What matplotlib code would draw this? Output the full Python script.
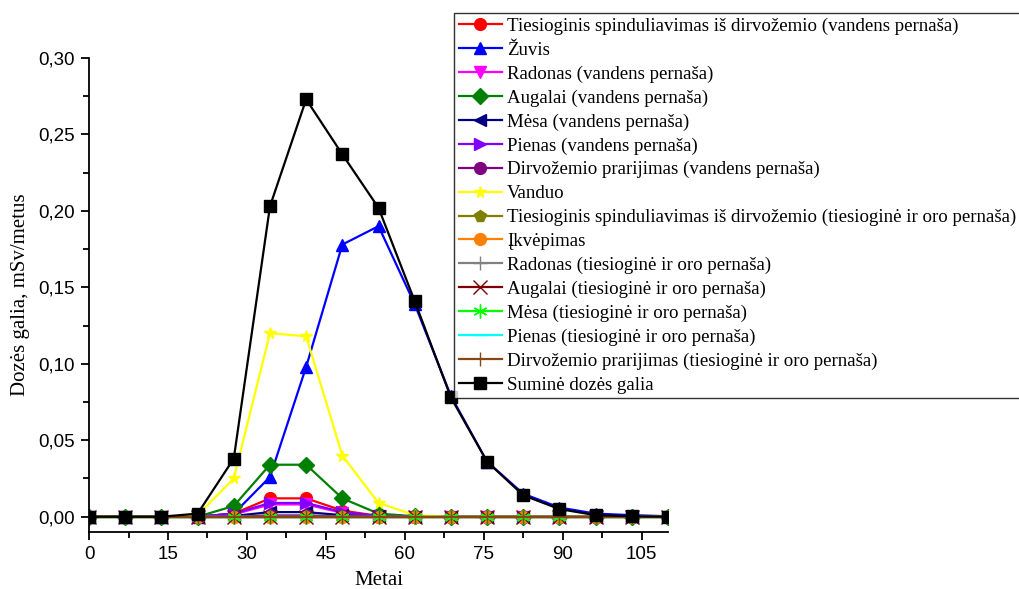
import matplotlib
matplotlib.use('Agg')
import matplotlib.pyplot as plt
from matplotlib.ticker import MultipleLocator, FuncFormatter

years = [0, 6.875, 13.75, 20.625, 27.5, 34.375, 41.25, 48.125, 55, 61.875,
         68.75, 75.625, 82.5, 89.375, 96.25, 103.125, 110]

zeros = [0.0] * 17
soil_direct_w = [0, 0, 0, 0, 0.002, 0.012, 0.012, 0.004, 0.0005, 0, 0, 0, 0, 0, 0, 0, 0]
fish = [0, 0, 0, 0, 0.002, 0.026, 0.098, 0.178, 0.190, 0.139, 0.079, 0.036, 0.015, 0.006, 0.002, 0.001, 0.0003]
radon_w = [0, 0, 0, 0, 0.0015, 0.008, 0.008, 0.0025, 0.0004, 0, 0, 0, 0, 0, 0, 0, 0]
plants_w = [0, 0, 0, 0, 0.007, 0.034, 0.034, 0.012, 0.002, 0.0003, 0, 0, 0, 0, 0, 0, 0]
meat_w = [0, 0, 0, 0, 0.0005, 0.003, 0.003, 0.001, 0.0002, 0, 0, 0, 0, 0, 0, 0, 0]
milk_w = [0, 0, 0, 0, 0.002, 0.009, 0.009, 0.003, 0.0005, 0, 0, 0, 0, 0, 0, 0, 0]
soil_ingest_w = [0, 0, 0, 0, 0.0002, 0.0008, 0.0008, 0.0003, 0, 0, 0, 0, 0, 0, 0, 0, 0]
water = [0, 0, 0, 0.001, 0.025, 0.120, 0.118, 0.040, 0.009, 0.001, 0, 0, 0, 0, 0, 0, 0]
total = [0, 0, 0, 0.002, 0.038, 0.203, 0.273, 0.237, 0.202, 0.141, 0.078, 0.036, 0.014, 0.005, 0.001, 0.0003, 0]

series = [
    ('Tiesioginis spinduliavimas iš dirvožemio (vandens pernaša)', soil_direct_w, '#FF0000', 'o'),
    ('Žuvis', fish, '#0000FF', '^'),
    ('Radonas (vandens pernaša)', radon_w, '#FF00FF', 'v'),
    ('Augalai (vandens pernaša)', plants_w, '#008000', 'D'),
    ('Mėsa (vandens pernaša)', meat_w, '#000080', '<'),
    ('Pienas (vandens pernaša)', milk_w, '#8000FF', '>'),
    ('Dirvožemio prarijimas (vandens pernaša)', soil_ingest_w, '#800080', 'o'),
    ('Vanduo', water, '#FFFF00', '*'),
    ('Tiesioginis spinduliavimas iš dirvožemio (tiesioginė ir oro pernaša)', zeros, '#808000', 'p'),
    ('Įkvėpimas', zeros, '#FF8000', 'o'),
    ('Radonas (tiesioginė ir oro pernaša)', zeros, '#808080', '+'),
    ('Augalai (tiesioginė ir oro pernaša)', zeros, '#800000', 'x'),
    ('Mėsa (tiesioginė ir oro pernaša)', zeros, '#00FF00', (6, 2, 0)),
    ('Pienas (tiesioginė ir oro pernaša)', zeros, '#00FFFF', '_'),
    ('Dirvožemio prarijimas (tiesioginė ir oro pernaša)', zeros, '#8B4513', '|'),
    ('Suminė dozės galia', total, '#000000', 's'),
]

fig = plt.figure(figsize=(10.2, 5.89), dpi=100)
ax = fig.add_axes([0.0873, 0.0968, 0.5676, 0.8047])

for name, vals, col, mk in series:
    ms = 8.5
    if mk == 's':
        ms = 9
    if mk in ('+', 'x', '|', '_') or isinstance(mk, tuple):
        ms = 10
    ax.plot(years, vals, color=col, marker=mk, markersize=ms, linewidth=1.6,
            markeredgewidth=1.0, label=name)

ax.set_xlim(0, 110)
ax.set_ylim(-0.010, 0.30)
ax.xaxis.set_major_locator(MultipleLocator(15))
ax.xaxis.set_minor_locator(MultipleLocator(7.5))
ax.yaxis.set_major_locator(MultipleLocator(0.05))
ax.yaxis.set_minor_locator(MultipleLocator(0.025))
ax.yaxis.set_major_formatter(FuncFormatter(lambda v, p: ('%.2f' % v).replace('.', ',')))

for s in ['top', 'right']:
    ax.spines[s].set_visible(False)
for s in ['left', 'bottom']:
    ax.spines[s].set_linewidth(1.3)
ax.tick_params(which='major', direction='out', length=6, width=1.3, labelsize=13.5, pad=4)
ax.tick_params(which='minor', direction='out', length=4, width=1.3)
for lab in ax.get_xticklabels() + ax.get_yticklabels():
    lab.set_fontfamily('Liberation Sans')

ax.set_xlabel('Metai', fontsize=15, family='Liberation Serif', labelpad=6)
ax.set_ylabel('Dozės galia, mSv/metus', fontsize=15, family='Liberation Serif', labelpad=6)

leg = fig.legend(loc='upper left', bbox_to_anchor=(454 / 1020, 1 - 13 / 589),
                 prop={'family': 'Liberation Serif', 'size': 13.6}, frameon=True,
                 fancybox=False, borderpad=0.25, labelspacing=0.35, handlelength=2.3,
                 handletextpad=0.25, borderaxespad=0)
leg.get_frame().set_edgecolor('black')
leg.get_frame().set_linewidth(1.0)

plt.savefig('out.png', dpi=100)
